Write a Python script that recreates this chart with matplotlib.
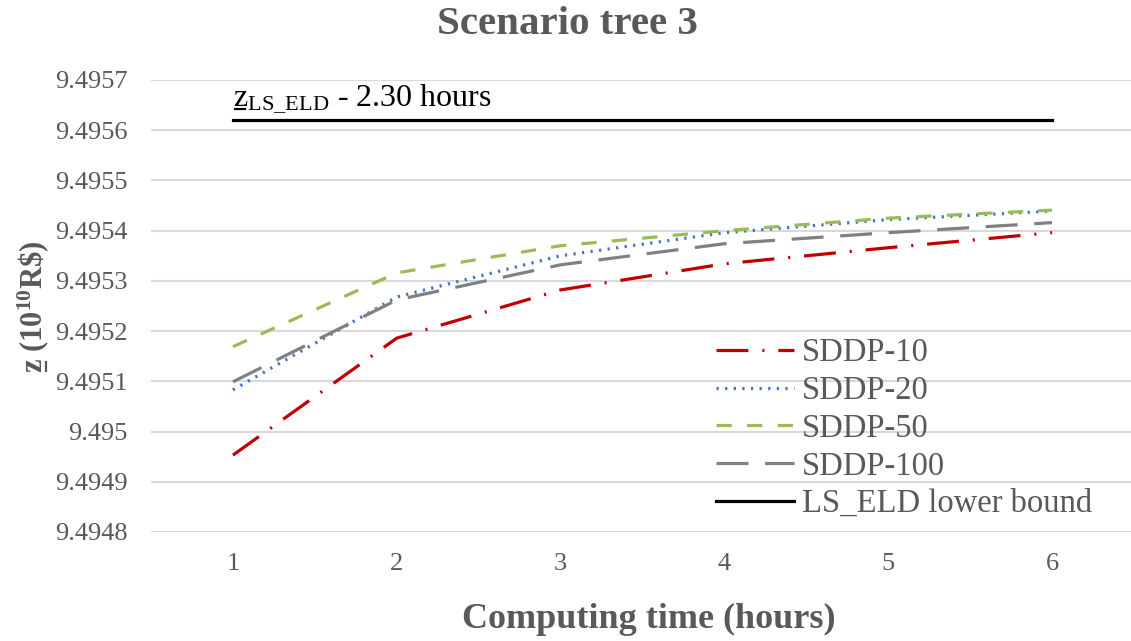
import matplotlib
matplotlib.use("Agg")
import matplotlib.pyplot as plt
from matplotlib.lines import Line2D

# Computing time (hours) and lower-bound estimates (10^10 R$)
hours = [1, 2, 3, 4, 5, 6]
sddp_10 = [9.494953, 9.495186, 9.495282, 9.495334, 9.495366, 9.495396]
sddp_20 = [9.495083, 9.495268, 9.495350, 9.495396, 9.495422, 9.495439]
sddp_50 = [9.495169, 9.495316, 9.495370, 9.495400, 9.495425, 9.495441]
sddp_100 = [9.495099, 9.495262, 9.495332, 9.495374, 9.495396, 9.495416]
ls_eld = [9.495621] * 6
y_ticks = [9.4948, 9.4949, 9.4950, 9.4951, 9.4952, 9.4953, 9.4954, 9.4955, 9.4956, 9.4957]
y_tick_labels = ["9.4948", "9.4949", "9.495", "9.4951", "9.4952",
                 "9.4953", "9.4954", "9.4955", "9.4956", "9.4957"]

plt.rcParams["font.family"] = ["Liberation Serif", "DejaVu Serif"]
plt.rcParams["mathtext.fontset"] = "custom"
plt.rcParams["mathtext.rm"] = "Liberation Serif"
plt.rcParams["mathtext.it"] = "Liberation Serif:italic"
plt.rcParams["mathtext.bf"] = "Liberation Serif:bold"
plt.rcParams["lines.scale_dashes"] = False

TEXT = "#595959"
GRID = "#d9d9d9"
W, H = 1131, 641

fig = plt.figure(figsize=(W / 100, H / 100), dpi=100)
ax = fig.add_axes([151 / W, 1 - 532 / H, 1 - 151 / W, (532 - 80) / H])

lw = 2.3
ax.plot(hours, sddp_10, color="#c00000", lw=lw, dashes=(23, 10, 1.5, 10), label="SDDP-10")
ax.plot(hours, sddp_20, color="#4472c4", lw=lw, dashes=(1.6, 4.6), label="SDDP-20")
ax.plot(hours, sddp_50, color="#9bbb59", lw=lw, dashes=(11, 11), label="SDDP-50")
ax.plot(hours, sddp_100, color="#808080", lw=lw, dashes=(23, 12), label="SDDP-100")
ax.plot(hours, ls_eld, color="black", lw=lw, label="LS_ELD lower bound")

ax.set_xlim(0.5, 6.482)
ax.set_ylim(9.4948, 9.4957)
ax.set_xticks(hours)
ax.set_xticklabels([str(h) for h in hours])
ax.set_yticks(y_ticks)
ax.set_yticklabels(y_tick_labels)
ax.tick_params(axis="both", length=0, labelsize=19, colors=TEXT)
ax.tick_params(axis="y", pad=17)
ax.tick_params(axis="x", pad=15)
ax.grid(axis="y", color=GRID, lw=1.5)
ax.set_axisbelow(True)
for s in ax.spines.values():
    s.set_visible(False)

fig.text(567 / W, 1 - 24 / H, "Scenario tree 3", ha="center", va="center",
         fontsize=29.5, fontweight="bold", color=TEXT)
fig.text(649 / W, 1 - 619 / H, "Computing time (hours)", ha="center", va="center",
         fontsize=26, fontweight="bold", color=TEXT)

renderer = fig.canvas.get_renderer()


def text_width(s, **kw):
    t = fig.text(0, 0, s, **kw)
    w = t.get_window_extent(renderer).width
    t.remove()
    return w


def underline(x0, y0, x1, y1, color, width):
    fig.add_artist(Line2D([x0 / W, x1 / W], [y0 / H, y1 / H], color=color,
                          lw=width, transform=fig.transFigure, solid_capstyle="butt"))


# Rotated y-axis title with an underlined z
ylab_kw = dict(fontsize=22, fontweight="bold", color=TEXT)
ylab = "z (10$^{\\mathbf{10}}$R\\$)"
L = text_width(ylab, **ylab_kw)
wz = text_width("z", **ylab_kw)
xb = 42
yb = (H - 307) - L / 2
fig.text(xb / W, yb / H, ylab, rotation=90, rotation_mode="anchor",
         ha="left", va="baseline", **ylab_kw)
underline(xb + 3.5, yb + 1, xb + 3.5, yb + wz - 1, TEXT, 1.6)

# Label above the LS_ELD bound line
ann_kw = dict(fontsize=23, color="black")
px, py = ax.transData.transform((hours[0], ls_eld[0]))
base = py + 14
fig.text(px / W, base / H, "z$_{\\mathrm{LS\\_ELD}}$ - 2.30 hours",
         ha="left", va="baseline", **ann_kw)
wz2 = text_width("z", **ann_kw)
underline(px + 1, base - 3, px + wz2 - 1, base - 3, "black", 1.6)

leg = ax.legend(loc="upper left", bbox_to_anchor=(716 / W, 1 - 338 / H),
                bbox_transform=fig.transFigure, frameon=False, fontsize=23.5,
                handlelength=2.4, handletextpad=0.22, labelspacing=0.22,
                borderpad=0, borderaxespad=0)
for t in leg.get_texts():
    t.set_color(TEXT)

fig.savefig("out.png", dpi=100)
